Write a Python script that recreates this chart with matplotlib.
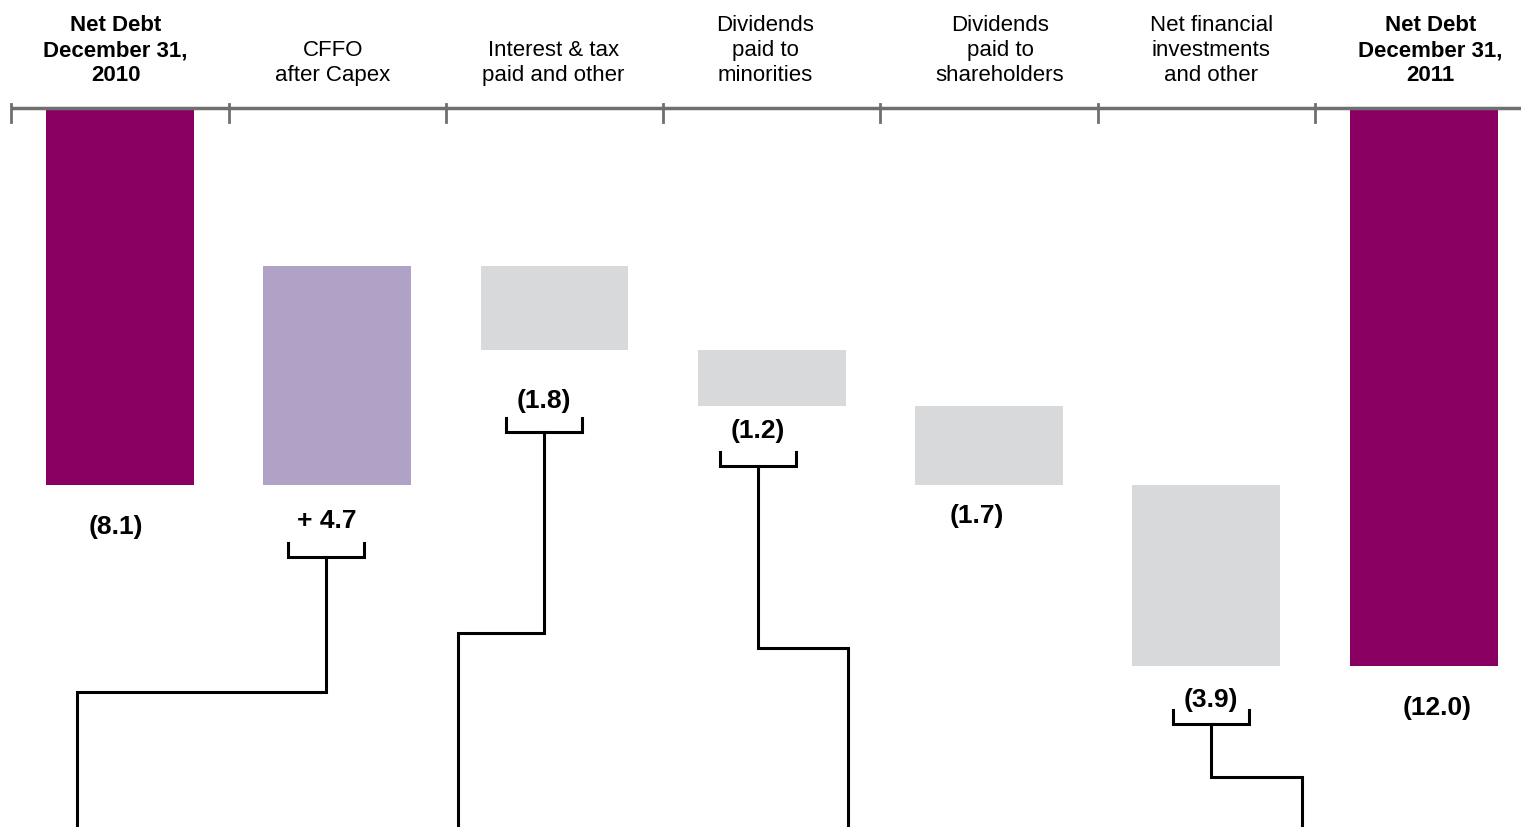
import matplotlib
matplotlib.use("Agg")
import matplotlib.pyplot as plt
import numpy as np

plt.rcParams['font.family'] = ['Liberation Sans Narrow', 'Liberation Sans', 'DejaVu Sans']

# categories and values (billion, net debt shown negative)
categories = ["Net Debt\nDecember 31,\n2010", "CFFO\nafter Capex", "Interest & tax\npaid and other",
              "Dividends\npaid to\nminorities", "Dividends\npaid to\nshareholders",
              "Net financial\ninvestments\nand other", "Net Debt\nDecember 31,\n2011"]
changes = [-8.1, 4.7, -1.8, -1.2, -1.7, -3.9, -12.0]
value_labels = ["(8.1)", "+ 4.7", "(1.8)", "(1.2)", "(1.7)", "(3.9)", "(12.0)"]
is_total = [True, False, False, False, False, False, True]
bold_header = [True, False, False, False, False, False, True]

# label placement tweaks (x shift, gap below bar in data units)
label_dx = [-0.02, -0.05, -0.05, -0.065, -0.055, 0.023, 0.064]
label_gap = [0.9, 0.78, 1.1, 0.55, 0.67, 0.72, 0.9]
header_dx = [-0.02, -0.02, -0.005, -0.03, 0.05, 0.023, 0.03]
# connectors: (category, bracket y, turn y, target x)
connectors = [(1, -9.66, -12.56, -0.198), (2, -6.97, -11.29, 1.556),
              (3, -7.70, -11.61, 3.350), (5, -13.25, -14.39, 5.440)]

MAGENTA = "#8a0062"
LAVENDER = "#b0a1c6"
GREY = "#d8d9db"

# waterfall geometry
tops, bottoms = [], []
running = 0.0
for ch, tot in zip(changes, is_total):
    if tot:
        tops.append(0.0)
        bottoms.append(ch)
        running = ch
    else:
        new = running + ch
        tops.append(max(running, new))
        bottoms.append(min(running, new))
        running = new
tops = np.array(tops)
bottoms = np.array(bottoms)

colors = []
for ch, tot in zip(changes, is_total):
    if tot:
        colors.append(MAGENTA)
    elif ch > 0:
        colors.append(LAVENDER)
    else:
        colors.append(GREY)

fig = plt.figure(figsize=(15.21, 8.27), dpi=100)
ax = fig.add_axes([0, 0, 1, 1])
x = np.arange(len(categories))
ax.bar(x, tops - bottoms, bottom=bottoms, width=0.68, color=colors, zorder=2)

# top axis line with ticks
ax.plot([-0.5, 6.6], [0, 0], color="#6f6f6f", lw=2.5, zorder=3, solid_capstyle="butt")
for b in np.arange(-0.5, 6.0, 1.0):
    ax.plot([b, b], [0.08, -0.3], color="#6f6f6f", lw=2, zorder=3)

# headers
for i, lab in enumerate(categories):
    ax.text(i + header_dx[i], 0.47, lab, ha="center", va="bottom", fontsize=16,
            fontweight="bold" if bold_header[i] else "normal", linespacing=1.24, color="black")

# value labels
for i, lab in enumerate(value_labels):
    ax.text(i + label_dx[i], bottoms[i] - label_gap[i], lab, ha="center", va="center",
            fontsize=19, fontweight="bold", color="black")

# brackets and connector lines
for cat, by, ty, tx in connectors:
    cx = cat + label_dx[cat]
    hw = 0.175
    ax.plot([cx - hw, cx - hw, cx + hw, cx + hw], [by + 0.3, by, by, by + 0.3],
            color="black", lw=2.2, solid_joinstyle="miter")
    ax.plot([cx, cx, tx, tx], [by, ty, ty, -20], color="black", lw=2.2, solid_joinstyle="miter")

ax.set_xlim(-0.552, 6.448)
ax.set_ylim(-15.46, 2.32)
ax.axis("off")

fig.savefig("out.png", dpi=100)
